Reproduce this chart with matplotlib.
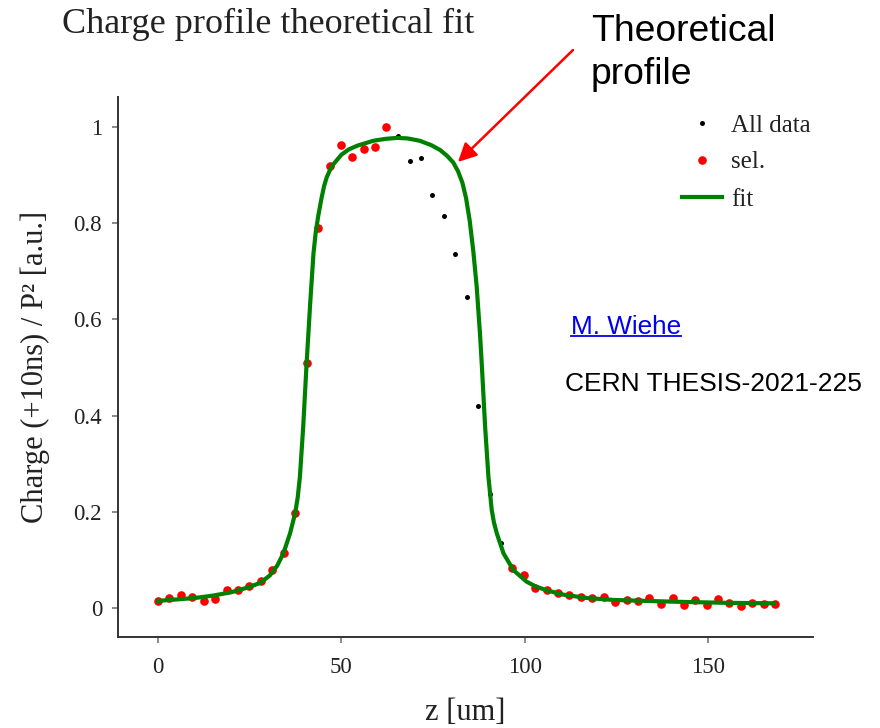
import matplotlib
matplotlib.use("Agg")
import matplotlib.pyplot as plt
from matplotlib.lines import Line2D

# ---------------- data ----------------
z_all = [0.0, 3.1, 6.2, 9.4, 12.5, 15.6, 18.7, 21.8, 24.9, 28.1,
         31.2, 34.3, 37.4, 40.5, 43.6, 46.8, 49.9, 53.0, 56.1, 59.2,
         62.3, 65.5, 68.6, 71.7, 74.8, 77.9, 81.0, 84.2, 87.3, 90.4,
         93.5, 96.6, 99.7, 102.8, 106.0, 109.1, 112.2, 115.3, 118.4, 121.5,
         124.7, 127.8, 130.9, 134.0, 137.1, 140.3, 143.4, 146.5, 149.6, 152.7,
         155.8, 159.0, 162.1, 165.2, 168.3]
q_all = [0.014, 0.021, 0.027, 0.023, 0.015, 0.019, 0.037, 0.037, 0.047, 0.056,
         0.080, 0.115, 0.198, 0.510, 0.790, 0.919, 0.962, 0.937, 0.953, 0.958,
         0.999, 0.981, 0.928, 0.935, 0.859, 0.814, 0.735, 0.647, 0.421, 0.238,
         0.135, 0.083, 0.068, 0.042, 0.037, 0.032, 0.028, 0.024, 0.022, 0.023,
         0.012, 0.017, 0.015, 0.021, 0.008, 0.021, 0.006, 0.017, 0.006, 0.019,
         0.011, 0.004, 0.010, 0.009, 0.009]
# indices of the selected points (the rest are only in "All data")
sel_idx = list(range(0, 21)) + list(range(31, 55))

z_fit = [0, 5, 10, 15, 20, 25, 28, 30.5, 32.5, 34.2, 36.0, 37.4, 38.1, 38.7,
         39.6, 40.5, 41.5, 42.4, 43.0, 43.7, 44.6, 45.3, 46.0, 47.0, 47.8,
         50.0, 52.0, 54.4, 58.7, 62, 65.1, 68, 71.4, 74.5, 76.9, 78.8, 80.5,
         81.8, 83.0, 84.0, 85.0, 86.0, 86.9, 87.8, 88.3, 89.2, 90.1, 91.0,
         91.6, 92.4, 94.2, 96.9, 100.5, 103, 106, 110.5, 117, 124.2, 133,
         142.4, 155, 168]
q_fit = [0.015, 0.018, 0.021, 0.026, 0.033, 0.044, 0.053, 0.068, 0.088, 0.114,
         0.155, 0.197, 0.230, 0.273, 0.377, 0.505, 0.633, 0.737, 0.780, 0.815,
         0.852, 0.877, 0.895, 0.912, 0.922, 0.942, 0.953, 0.961, 0.971, 0.975,
         0.977, 0.976, 0.971, 0.962, 0.952, 0.940, 0.926, 0.908, 0.884, 0.852,
         0.805, 0.740, 0.668, 0.570, 0.505, 0.377, 0.273, 0.204, 0.178, 0.155,
         0.114, 0.079, 0.055, 0.045, 0.037, 0.028, 0.021, 0.017, 0.015, 0.013,
         0.011, 0.010]

x_ticks = [0, 50, 100, 150]
x_ticklabels = ["0", "50", "100", "150"]
y_ticks = [0, 0.2, 0.4, 0.6, 0.8, 1.0]
y_ticklabels = ["0", "0.2", "0.4", "0.6", "0.8", "1"]

z_sel = [z_all[i] for i in sel_idx]
q_sel = [q_all[i] for i in sel_idx]

# ---------------- figure ----------------
SERIF = ["Liberation Serif", "DejaVu Serif"]
SANS = ["Liberation Sans", "DejaVu Sans"]
plt.rcParams["font.family"] = SERIF

W, H = 880, 728
fig = plt.figure(figsize=(W / 100, H / 100), dpi=100)
ax = fig.add_axes([118 / W, 1 - 637 / H, (813 - 118) / W, (637 - 97) / H])

h_all, = ax.plot(z_all, q_all, ls="none", marker="o", ms=3.6, color="black",
                 mec="none", label="All data", zorder=2)
h_sel, = ax.plot(z_sel, q_sel, ls="none", marker="o", ms=6.2, color="#ff0000",
                 mec="none", label="sel.", zorder=3)
h_fit, = ax.plot(z_fit, q_fit, color="#008000", lw=3.0, label="fit", zorder=4,
                 solid_joinstyle="round")

ax.set_xlim(-10.9, 178.6)
ax.set_ylim(-0.060, 1.062)
ax.set_xticks(x_ticks)
ax.set_xticklabels(x_ticklabels)
ax.set_yticks(y_ticks)
ax.set_yticklabels(y_ticklabels)

for s in ("top", "right"):
    ax.spines[s].set_visible(False)
for s in ("left", "bottom"):
    ax.spines[s].set_color("#333333")
    ax.spines[s].set_linewidth(1.4)
ax.tick_params(axis="both", direction="out", length=4.5, width=1.2,
               color="#777777", labelsize=16.5, labelcolor="#222222")
ax.tick_params(axis="x", pad=10)
ax.tick_params(axis="y", pad=7)

# axis labels
fig.text(465 / W, 1 - 713 / H, "z [um]", ha="center", va="center",
         fontsize=22, color="#222222")
fig.text(35 / W, 1 - 367 / H, "Charge (+10ns) / P² [a.u.]", ha="center",
         va="center", rotation=90, fontsize=22, color="#222222")

# title
fig.text(62 / W, 1 - 33 / H, "Charge profile theoretical fit", ha="left",
         va="baseline", fontsize=26, color="#222222")

# legend
leg = ax.legend(handles=[h_all, h_sel, h_fit], loc="upper left",
                bbox_to_anchor=(682 / W, 1 - 114 / H),
                bbox_transform=fig.transFigure, frameon=False, fontsize=18,
                handlelength=1.6, handletextpad=0.35, labelspacing=0.58,
                borderpad=0, borderaxespad=0, numpoints=1)
for t in leg.get_texts():
    t.set_color("#222222")

# annotation text + arrow
fig.text(591 / W, 1 - 14 / H, "Theoretical\nprofile", ha="left", va="top",
         fontsize=26.8, family=SANS, color="black", linespacing=1.3)
ax.annotate("", xy=(81.8, 0.927), xycoords="data",
            xytext=(573 / W, 1 - 50 / H), textcoords="figure fraction",
            arrowprops=dict(arrowstyle="-|>", color="#ff0000", lw=1.8,
                            mutation_scale=28, shrinkA=0, shrinkB=0),
            annotation_clip=False)

# credits
t_author = fig.text(571 / W, 1 - 327 / H, "M. Wiehe", ha="left", va="center",
                    fontsize=18.8, family=SANS, color="#0000ee")
fig.text(565 / W, 1 - 384 / H, "CERN THESIS-2021-225", ha="left", va="center",
         fontsize=19, family=SANS, color="black")

# underline for the link-like author text
fig.canvas.draw()
bb = t_author.get_window_extent().transformed(fig.transFigure.inverted())
fig.add_artist(Line2D([bb.x0, bb.x1], [bb.y0 + 0.004, bb.y0 + 0.004],
                      transform=fig.transFigure, color="#0000ee", lw=1.3))

fig.savefig("out.png", dpi=100)
